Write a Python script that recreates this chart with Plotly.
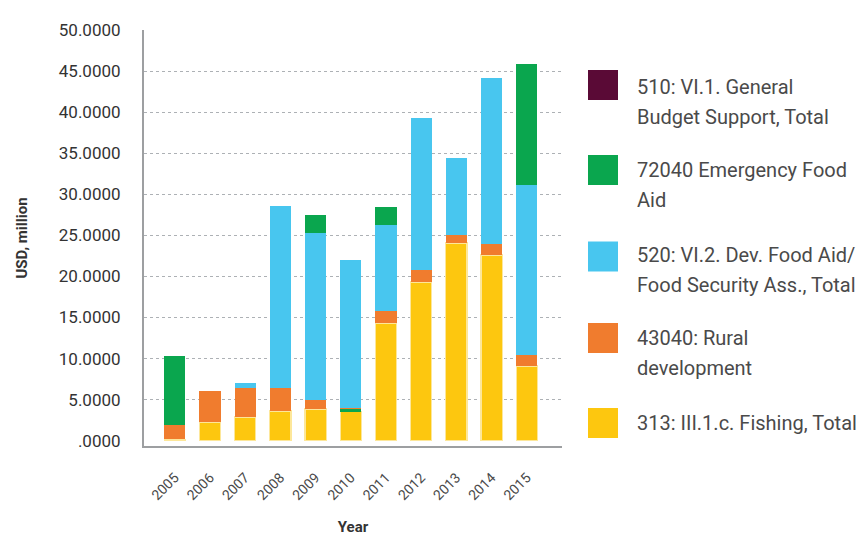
import plotly.graph_objects as go

# ---------------- data ----------------
years = ["2005", "2006", "2007", "2008", "2009", "2010", "2011", "2012", "2013", "2014", "2015"]
fishing = [0.15, 2.28, 2.89, 3.62, 3.86, 3.53, 14.33, 19.33, 24.08, 22.62, 9.10]        # 313
rural = [1.76, 3.78, 3.57, 2.84, 1.14, 0.16, 1.47, 1.50, 0.97, 1.38, 1.34]               # 43040
dev_food = [0.0, 0.0, 0.57, 22.13, 20.30, 17.98, 10.47, 18.47, 9.38, 20.18, 20.68]       # 520
emergency = [8.40, 0.0, 0.0, 0.0, 2.19, 0.33, 2.19, 0.0, 0.0, 0.0, 14.78]                # 72040
budget = [0.0] * 11                                                                       # 510
emergency_low_years = ["2010"]   # year where the emergency segment sits below rural dev.

y_ticks = [0, 5, 10, 15, 20, 25, 30, 35, 40, 45, 50]
y_ticktext = [".0000", "5.0000", "10.0000", "15.0000", "20.0000", "25.0000",
              "30.0000", "35.0000", "40.0000", "45.0000", "50.0000"]

names = {
    "budget": "510: VI.1. General Budget Support, Total",
    "emergency": "72040 Emergency Food Aid",
    "dev": "520: VI.2. Dev. Food Aid/ Food Security Ass., Total",
    "rural": "43040: Rural development",
    "fishing": "313: III.1.c. Fishing, Total",
}
colors = {
    "budget": "#5a0a36",
    "emergency": "#0aa64e",
    "dev": "#48c6ef",
    "rural": "#f07c2e",
    "fishing": "#fdc70f",
}

emergency_low = [v if y in emergency_low_years else 0 for y, v in zip(years, emergency)]
emergency_top = [0 if y in emergency_low_years else v for y, v in zip(years, emergency)]

FONT = "Roboto, sans-serif"

fig = go.Figure()
fig.add_bar(x=years, y=fishing, name=names["fishing"], marker_color=colors["fishing"],
            marker_line=dict(color="#fde79a", width=1.2))
fig.add_bar(x=years, y=emergency_low, name=names["emergency"], marker_color=colors["emergency"],
            marker_line_width=0, showlegend=False)
fig.add_bar(x=years, y=rural, name=names["rural"], marker_color=colors["rural"], marker_line_width=0)
fig.add_bar(x=years, y=dev_food, name=names["dev"], marker_color=colors["dev"], marker_line_width=0)
fig.add_bar(x=years, y=emergency_top, name=names["emergency"], marker_color=colors["emergency"],
            marker_line_width=0)
fig.add_bar(x=years, y=budget, name=names["budget"], marker_color=colors["budget"], marker_line_width=0)

# plot area in pixels
L, R, T, B = 144, 562, 30, 446
W, H = 865, 536


def px_x(px):
    return (px - L) / (R - L)


def px_y(py):
    return (B - py) / (B - T)


# manual legend (large square swatches, wrapped labels)
legend_items = [
    ("budget", 85, ["510: VI.1. General", "Budget Support, Total"], 87),
    ("emergency", 170, ["72040 Emergency Food", "Aid"], 170),
    ("dev", 256.5, ["520: VI.2. Dev. Food Aid/", "Food Security Ass., Total"], 255),
    ("rural", 338, ["43040: Rural", "development"], 338),
    ("fishing", 423, ["313: III.1.c. Fishing, Total"], 423),
]
shapes = []
annotations = []
for key, cy, lines, ty in legend_items:
    shapes.append(dict(type="rect", xref="paper", yref="paper",
                       x0=px_x(588), x1=px_x(618), y0=px_y(cy + 15), y1=px_y(cy - 15),
                       fillcolor=colors[key], line_width=0))
    for i, line in enumerate(lines):
        annotations.append(dict(xref="paper", yref="paper", x=px_x(635), y=px_y(ty + 30 * i),
                                xanchor="left", yanchor="middle", text=line, showarrow=False,
                                font=dict(family=FONT, size=20, color="#4a4a4a")))

fig.update_layout(
    width=W, height=H,
    barmode="stack", bargap=0.4,
    showlegend=False,
    plot_bgcolor="white", paper_bgcolor="white",
    margin=dict(l=L, r=W - R, t=T, b=H - B, pad=0),
    font=dict(family=FONT, color="#333"),
    shapes=shapes, annotations=annotations,
)
fig.update_xaxes(
    type="category", range=[-0.875, 11.0],
    showline=True, linecolor="#9d9fa1", linewidth=2,
    showgrid=False, ticks="", tickangle=-45, ticklabelstandoff=16,
    tickfont=dict(family=FONT, size=14, color="#4a4a4a"),
    automargin=False,
    title=dict(text="<b>Year</b>", font=dict(family=FONT, size=15, color="#333"), standoff=30),
)
fig.update_yaxes(
    range=[-0.65, 50.02],
    tickvals=y_ticks, ticktext=y_ticktext,
    showline=True, linecolor="#9d9fa1", linewidth=2,
    showgrid=True, gridcolor="#adb1b5", gridwidth=1.3, griddash="3px,3px",
    zeroline=True, zerolinecolor="rgba(0,0,0,0)",
    ticks="", ticklabelstandoff=18,
    automargin=False,
    tickfont=dict(family=FONT, size=17, color="#333"),
    title=dict(text="<b>USD, million</b>", font=dict(family=FONT, size=15, color="#333"), standoff=28),
)

fig.write_html("out.html", config={"displayModeBar": False},
               post_script="document.body.style.margin='0';")
